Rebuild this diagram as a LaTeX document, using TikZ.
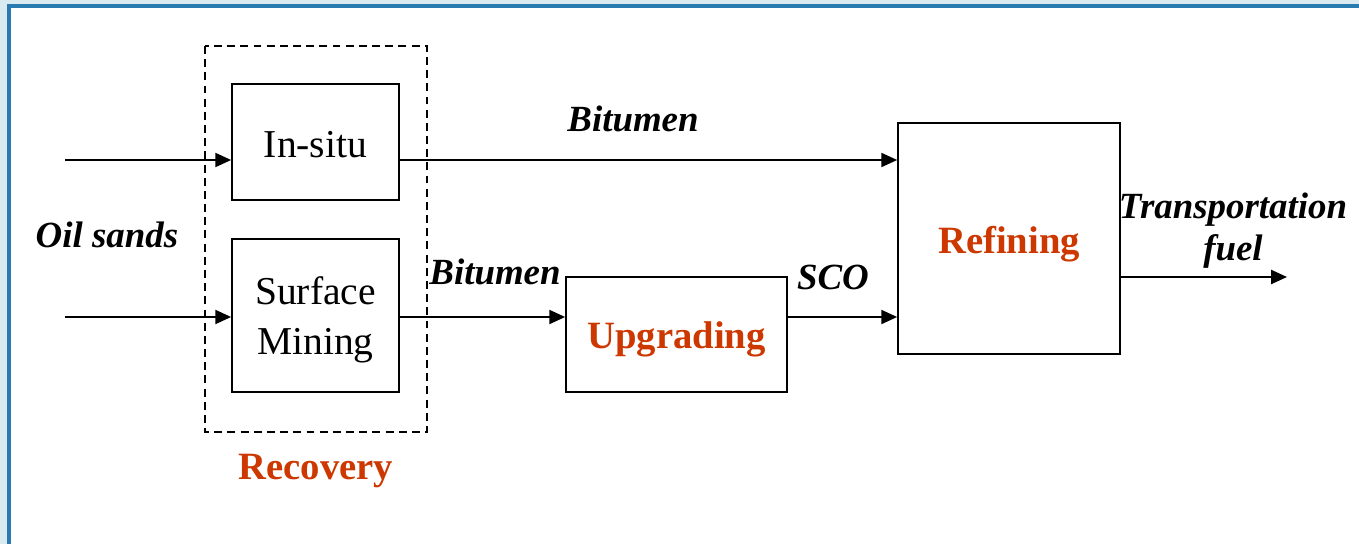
\documentclass[tikz,border=0pt]{standalone}
\usepackage{fontspec}
\setmainfont{Liberation Serif}
\usetikzlibrary{arrows.meta}

\definecolor{framebg}{rgb}{0.85,0.92,0.94}
\definecolor{frameline}{rgb}{0.16,0.48,0.69}
\definecolor{stagered}{rgb}{0.80,0.22,0.0}

\tikzset{
    unitbox/.style={draw, line width=1pt, fill=white, inner sep=0pt, font=\fontsize{22.5}{28.5}\selectfont, align=center, text depth=0pt},
    stagetxt/.style={text=stagered, font=\fontsize{22}{26}\selectfont\bfseries},
    flowtxt/.style={font=\fontsize{21}{24}\selectfont\bfseries\itshape, align=center, inner sep=0pt},
    flow/.style={line width=1pt, -{Triangle[length=9pt,width=8pt]}}
}

\begin{document}
\begin{tikzpicture}[x=0.02cm, y=-0.02cm]
        \useasboundingbox (0,0) rectangle (1359,544);
        \begin{scope}
        \clip (0,0) rectangle (1359,544);
        \fill[framebg] (0,0) rectangle (1359,544);                                      % frame
        \draw[line width=2pt, draw=frameline, fill=white] (9,6) rectangle (1380,570);
        \end{scope}

        \draw[line width=1pt, dash pattern=on 4.5pt off 3pt] (205,46) rectangle (427,432);   % recovery
        \node[stagetxt] (recovery) at (316,471) {Recovery};

        \node[unitbox, minimum width=3.34cm, minimum height=2.32cm, text height=0.64cm] (insitu) at (315.5,142) {In-situ};
        \node[unitbox, minimum width=3.34cm, minimum height=3.06cm] (mining) at (315.5,315.5) {Surface\\Mining};
        \node[unitbox, minimum width=4.42cm, minimum height=2.30cm, stagetxt, text height=0.58cm] (upgrading) at (676.5,334.5) {Upgrading};
        \node[unitbox, minimum width=4.44cm, minimum height=4.62cm, stagetxt, text height=0.62cm] (refining) at (1009,238.5) {Refining};

        \coordinate (sandsA) at (65,160);
        \coordinate (sandsB) at (65,317);
        \coordinate (fuelend) at (1287,277);

        \draw[flow] (sandsA) -- (insitu.west |- sandsA);
        \draw[flow] (sandsB) -- (mining.west |- sandsB);
        \draw[flow] (insitu.east |- sandsA) -- (refining.west |- sandsA);
        \draw[flow] (mining.east |- sandsB) -- (upgrading.west |- sandsB);
        \draw[flow] (upgrading.east |- sandsB) -- (refining.west |- sandsB);
        \draw[flow] (refining.east |- fuelend) -- (fuelend);

        \node[flowtxt] (sands) at (107,235) {Oil sands};
        \node[flowtxt] (bitumenA) at (633,119) {Bitumen};
        \node[flowtxt] (bitumenB) at (495,272) {Bitumen};
        \node[flowtxt] (sco) at (833,277) {SCO};
        \node[flowtxt] (fuel) at (1233,231) {Transportation\\fuel};
\end{tikzpicture}
\end{document}
